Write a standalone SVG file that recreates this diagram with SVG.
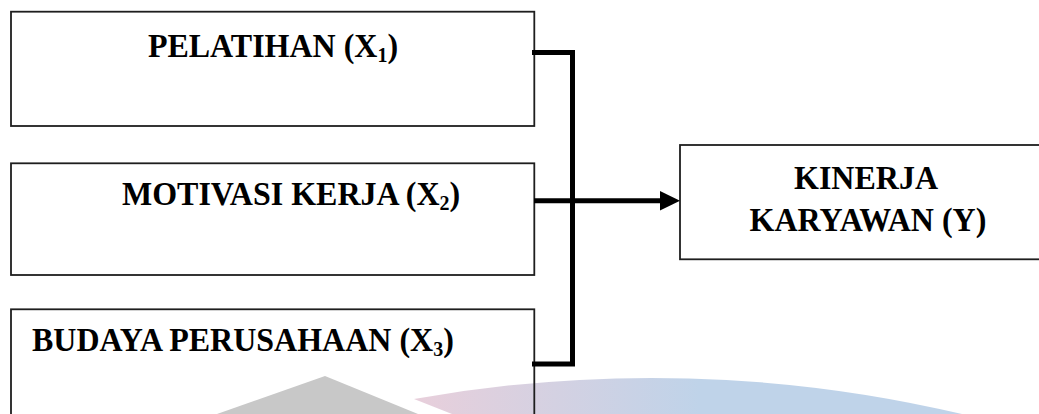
<svg xmlns="http://www.w3.org/2000/svg" width="1039" height="414" viewBox="0 0 1039 414">
  <defs>
    <linearGradient id="wmGrad" gradientUnits="userSpaceOnUse" x1="415" y1="0" x2="700" y2="0">
      <stop offset="0" stop-color="#e8cfdb"/>
      <stop offset="1" stop-color="#bfd3e9"/>
    </linearGradient>
    <style>
      .box { fill: none; stroke: #1e1e1e; stroke-width: 1.8; }
      .label { font-family: "Liberation Serif", "Times New Roman", serif; font-weight: bold; font-size: 32px; fill: #000; }
      .sub { font-size: 20px; }
      .link { fill: none; stroke: #000; stroke-width: 5; }
    </style>
  </defs>

  <rect width="1039" height="414" fill="#fff"/>

  <!-- faint logo shapes along the bottom edge -->
  <g id="watermark">
    <path d="M325,376 L418,414 L217,414 Z" fill="#c8c8c8"/>
    <path d="M414,399 A1350,1350 0 0 1 962,414 L452,414 Z" fill="url(#wmGrad)"/>
  </g>

  <g id="pelatihan">
    <rect class="box" x="11" y="11.7" width="523.3" height="114.3"/>
    <text class="label" transform="translate(273,57) scale(1,1.08)" text-anchor="middle">PELATIHAN (X<tspan class="sub" dy="5">1</tspan><tspan dy="-5">)</tspan></text>
  </g>

  <g id="motivasi">
    <rect class="box" x="11" y="163.3" width="523.3" height="111.7"/>
    <text class="label" transform="translate(122,205) scale(1,1.08)">MOTIVASI KERJA (X<tspan class="sub" dy="5">2</tspan><tspan dy="-5">)</tspan></text>
  </g>

  <g id="budaya">
    <rect class="box" x="11" y="309.3" width="523.3" height="130"/>
    <text class="label" transform="translate(32,351) scale(1,1.08)">BUDAYA PERUSAHAAN (X<tspan class="sub" dy="5">3</tspan><tspan dy="-5">)</tspan></text>
  </g>

  <g id="kinerja">
    <rect class="box" x="680" y="145" width="420" height="114.3"/>
    <text class="label" transform="translate(866,189) scale(1,1.08)" text-anchor="middle">KINERJA</text>
    <text class="label" transform="translate(868,231) scale(1,1.08)" text-anchor="middle">KARYAWAN (Y)</text>
  </g>

  <g id="connectors">
    <path class="link" d="M532,52.5 H572.5 V364 H532"/>
    <path class="link" d="M534,200.7 H662" stroke-width="5.5"/>
    <path d="M660,191 L680,200.7 L660,210.5 Z" fill="#000"/>
  </g>
</svg>
